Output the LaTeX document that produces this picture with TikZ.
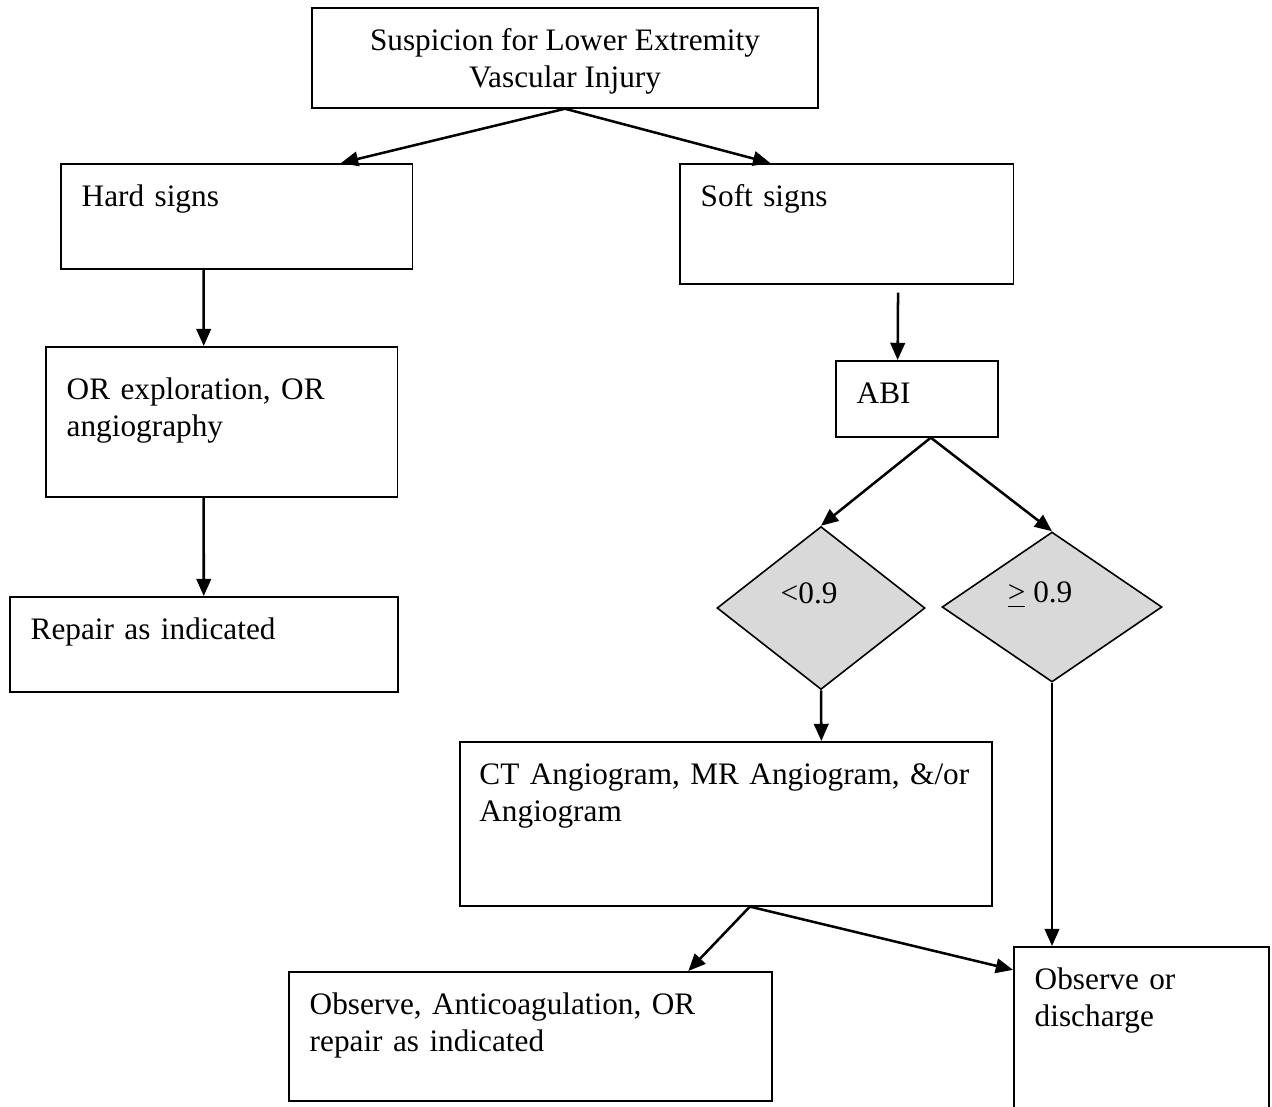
\documentclass[tikz,border=0pt]{standalone}
\usepackage{fontspec}
\setmainfont{Liberation Serif}
\usetikzlibrary{arrows.meta, shapes.geometric, calc}

\begin{document}
\begin{tikzpicture}[x=0.3774pt, y=-0.3774pt,
  every node/.style={font=\fontsize{11.8}{14}\selectfont},
  box node/.style 2 args={draw, line width=0.6pt, anchor=north west, align=left,
    inner xsep=7.9pt, inner ysep=0pt, text width=#1, text height=16pt, text depth=#2},
  top node/.style={draw, line width=0.6pt, align=center, inner sep=0pt,
    minimum width=191pt, minimum height=37.7pt},
  test node/.style={diamond, draw, line width=0.6pt, fill=black!15, inner sep=0pt,
    text height=8pt, text depth=11.4pt},
  arrow line/.style={line width=0.95pt, -{Triangle[length=6.5pt, width=5.5pt]}}]

\useasboundingbox (0,0) rectangle (1272,1106);
\clip (0,0) rectangle (1272,1106);

\node[top node, text depth=0pt] (susp) at (565,58) {Suspicion for Lower Extremity\\Vascular Injury};
\node[box node={117pt}{23.6pt}] (hard) at (60,163) {Hard signs};
\node[box node={110.2pt}{29.3pt}] (soft) at (679,163) {Soft signs};
\node[box node={117pt}{36.6pt}, text height=20pt] (explore) at (45,346) {OR exploration, OR\\angiography};
\node[box node={130.6pt}{19.9pt}] (repair) at (9,596) {Repair as indicated};
\node[box node={45.3pt}{12.7pt}] (abi) at (835,360) {ABI};
\node[test node, minimum width=78.5pt, minimum height=61.5pt] (low) at (821,608) {<0.9\hspace*{9pt}};
\node[test node, minimum width=83pt, minimum height=56.6pt] (high) at (1052,607) {\underline{>} 0.9\hspace*{9pt}};
\node[box node={186pt}{45.9pt}, inner xsep=7.4pt] (imaging) at (459,741) {\mbox{CT Angiogram, MR Angiogram, \&/or}\\Angiogram};
\node[box node={166.5pt}{32.7pt}] (treat) at (288,971) {Observe, Anticoagulation, OR\\repair as indicated};
\node[box node={80.4pt}{70pt}] (discharge) at (1013,946) {Observe or\\discharge};

\draw[arrow line] (susp.south) -- ($(hard.north west)!0.795!(hard.north east)$);
\draw[arrow line] (susp.south) -- ($(soft.north west)!0.272!(soft.north east)$);
\draw[arrow line] ($(hard.south west)!0.406!(hard.south east)$) -- ($(explore.north west)!0.449!(explore.north east)$);
\draw[arrow line] ($(explore.south west)!0.449!(explore.south east)$) -- (repair.north);
\draw[arrow line] ($(soft.south west)!0.653!(soft.south east)+(0,-3pt)$) -- ($(abi.north west)!0.383!(abi.north east)$);
\draw[arrow line] ($(abi.south west)!0.586!(abi.south east)$) -- (low.north);
\draw[arrow line] ($(abi.south west)!0.586!(abi.south east)$) -- (high.north);
\draw[arrow line] (low.south) -- ($(imaging.north west)!0.679!(imaging.north east)$);
\draw[arrow line] (high.south) -- (high.south |- discharge.north);
\draw[arrow line] ($(imaging.south west)!0.545!(imaging.south east)$) -- ($(treat.north west)!0.826!(treat.north east)$);
\draw[arrow line] ($(imaging.south west)!0.545!(imaging.south east)$) -- ([yshift=-9pt]discharge.north west);
\end{tikzpicture}
\end{document}
